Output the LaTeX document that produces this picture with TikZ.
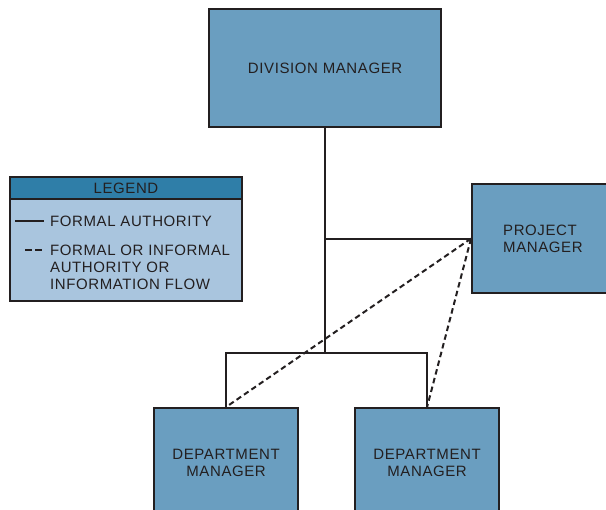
\documentclass[tikz,border=0pt]{standalone}
\usepackage{fontspec}
\setmainfont{Liberation Sans}[LetterSpace=4]
\usepackage{xcolor}
\usetikzlibrary{positioning}

\definecolor{boxblue}{HTML}{6A9EC0}
\definecolor{legendblue}{HTML}{A9C5DE}
\definecolor{headblue}{HTML}{2F7EA8}
\definecolor{inkgray}{HTML}{231F20}

\tikzset{
  mgrbox/.style={draw=inkgray, fill=boxblue, line width=2.2pt, rectangle,
    anchor=north west, inner sep=0pt, align=center, text=inkgray,
    font=\fontsize{15}{17}\selectfont},
  txt/.style={inner sep=0pt, text=inkgray, align=left,
    font=\fontsize{15}{17}\selectfont},
  formal/.style={draw=inkgray, line width=2pt},
  flow/.style={draw=inkgray, line width=2pt, dash pattern=on 5.5pt off 3.5pt}
}

\begin{document}
\begin{tikzpicture}[x=1pt,y=-1pt]
        \useasboundingbox (0,0) rectangle (606,510);
        \clip (0,0) rectangle (606,510);

        %------------------
        % 箱
        %------------------

        \node[mgrbox, minimum width=232pt, minimum height=118pt] (div) at (208,8) {DIVISION MANAGER};
        \node[mgrbox, minimum width=145pt, minimum height=109pt] (pm) at (471,183) {};
        \node[txt, anchor=west] (pmtxt) at (503,238.5) {PROJECT\\MANAGER};
        \node[mgrbox, minimum width=144pt, minimum height=109pt] (dl) at (153,407) {DEPARTMENT\\MANAGER};
        \node[mgrbox, minimum width=144pt, minimum height=109pt] (dr) at (354,407) {DEPARTMENT\\MANAGER};

        %------------------
        % 線
        %------------------

        \coordinate (tee) at (div.south |- pm.west);
        \coordinate (bar) at (div.south |- 0,353);

        \draw[formal] (div.south) -- (bar);
        \draw[formal] (tee) -- (pm.west);
        \draw[formal] (dl.north) |- (bar) -| (dr.north);

        \draw[flow] (pm.west) -- (dl.north);
        \draw[flow] (pm.west) -- (dr.north);

        %------------------
        % 凡例
        %------------------

        \fill[legendblue] (10,177) rectangle (242,301);
        \fill[headblue] (10,177) rectangle (242,199);
        \draw[inkgray, line width=1.8pt] (10,199) -- (242,199);
        \draw[inkgray, line width=2.2pt] (10,177) rectangle (242,301);
        \node[txt] (legend) at (126,188.5) {LEGEND};

        \coordinate (solidA) at (15,221);
        \coordinate (solidB) at (44,221);
        \draw[formal] (solidA) -- (solidB);
        \node[txt, anchor=west] (formaltxt) at (50,221) {FORMAL AUTHORITY};

        \coordinate (dashA) at (25,250);
        \coordinate (dashB) at (42,250);
        \draw[formal, dash pattern=on 6.5pt off 3.5pt] (dashA) -- (dashB);
        \node[txt, anchor=north west] (flowtxt) at (50,244.5) {FORMAL OR INFORMAL\\AUTHORITY OR\\INFORMATION FLOW};
      \end{tikzpicture}
\end{document}
